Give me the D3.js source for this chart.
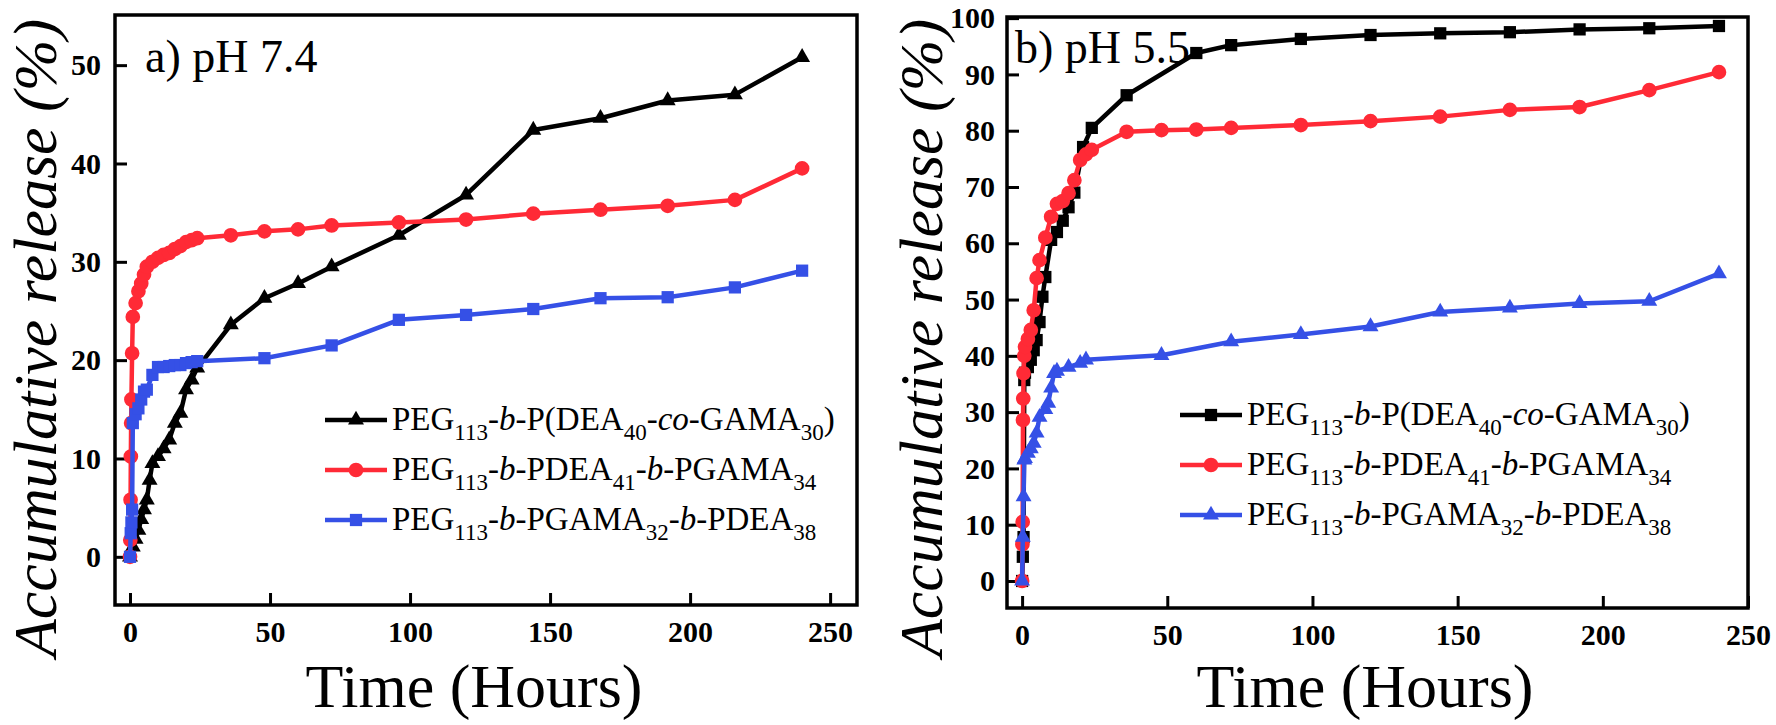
<!DOCTYPE html>
<html>
<head>
<meta charset="utf-8">
<script src="https://cdn.jsdelivr.net/npm/d3@7"></script>
<style>
  body { margin: 0; background: #fff; }
  svg { display: block; }
  text { font-family: "Liberation Serif", "Times New Roman", serif; fill: #000; }
  .tick text { font-weight: bold; font-size: 30px; }
</style>
</head>
<body>
<div id="chart"></div>
<script>
// === data ===
// panel a) pH 7.4
const aBlackT = [0, 1, 2, 3, 4, 5, 6, 7, 8, 10, 12, 14, 16, 18, 20, 22, 24, 36, 48, 60, 72, 96, 120, 144, 168, 192, 216, 240];
const aBlackV = [0, 1, 1.8, 2.7, 3.8, 4.8, 5.8, 7.8, 9.5, 10.2, 11, 11.9, 13.6, 14.6, 17, 18, 19.2, 23.6, 26.3, 27.8, 29.5, 32.7, 36.8, 43.4, 44.6, 46.4, 47, 50.8];
const aRedT = [0, 0.1, 0.2, 0.3, 0.4, 0.5, 0.75, 1, 2, 3, 4, 5, 6, 8, 10, 12, 14, 16, 18, 20, 22, 24, 36, 48, 60, 72, 96, 120, 144, 168, 192, 216, 240];
const aRedV = [0, 1.7, 5.8, 10.2, 13.6, 16, 20.7, 24.4, 25.8, 27, 27.8, 28.7, 29.5, 30, 30.4, 30.7, 30.9, 31.3, 31.6, 32, 32.2, 32.4, 32.7, 33.1, 33.3, 33.7, 34.0, 34.3, 34.9, 35.3, 35.7, 36.3, 39.5];
const aBlueT = [0, 0.25, 0.5, 0.75, 1, 2, 3, 4, 5, 6, 8, 10, 12, 14, 16, 18, 20, 22, 24, 48, 72, 96, 120, 144, 168, 192, 216, 240];
const aBlueV = [0, 2.4, 3.5, 4.8, 13.6, 14.5, 15.1, 16, 16.8, 17, 18.5, 19.3, 19.3, 19.4, 19.5, 19.5, 19.7, 19.8, 19.9, 20.2, 21.5, 24.1, 24.6, 25.2, 26.3, 26.4, 27.4, 29.1];

// panel b) pH 5.5
const bBlackT = [0, 0.25, 0.5, 0.75, 1, 2, 3, 4, 5, 6, 7, 8, 10, 12, 14, 16, 18, 21, 24, 36, 60, 72, 96, 120, 144, 168, 192, 216, 240];
const bBlackV = [0, 4.3, 7.8, 35.7, 37, 38, 39.3, 41, 42.8, 46, 50.5, 54, 60.6, 62, 64, 66.4, 69, 77.1, 80.5, 86.3, 93.8, 95.2, 96.3, 97, 97.3, 97.5, 98, 98.2, 98.6];
const bRedT = [0, 0.1, 0.2, 0.3, 0.4, 0.5, 0.75, 1, 2, 3, 4, 5, 6, 8, 10, 12, 14, 16, 18, 20, 22, 24, 36, 48, 60, 72, 96, 120, 144, 168, 192, 216, 240];
const bRedV = [0, 6.5, 10.5, 28.6, 32.4, 36.9, 40, 41.6, 43, 44.6, 48.1, 53.8, 57, 61, 64.7, 67, 67.5, 68.9, 71.2, 74.8, 75.8, 76.6, 79.8, 80.1, 80.2, 80.5, 81, 81.7, 82.5, 83.7, 84.2, 87.2, 90.4];
const bBlueT = [0, 0.25, 0.5, 0.75, 1, 2, 3, 4, 5, 6, 8, 9, 10, 11, 12, 16, 20, 22, 48, 72, 96, 120, 144, 168, 192, 216, 240];
const bBlueV = [0, 7.8, 15, 21.5, 21.8, 22.7, 23.5, 24.5, 26.3, 29.1, 30.5, 31.6, 34.3, 36.9, 37.3, 38, 38.7, 39.3, 40.1, 42.5, 43.8, 45.2, 47.8, 48.5, 49.3, 49.7, 54.6];

const xTicks = [0, 50, 100, 150, 200, 250];
const aYTicks = [0, 10, 20, 30, 40, 50];
const bYTicks = [0, 10, 20, 30, 40, 50, 60, 70, 80, 90, 100];

// legend labels: [text, isSub, isItalic]
const legendBlack = [["PEG", 0, 0], ["113", 1, 0], ["-", 0, 0], ["b", 0, 1], ["-P(DEA", 0, 0], ["40", 1, 0], ["-", 0, 0], ["co", 0, 1], ["-GAMA", 0, 0], ["30", 1, 0], [")", 0, 0]];
const legendRed = [["PEG", 0, 0], ["113", 1, 0], ["-", 0, 0], ["b", 0, 1], ["-PDEA", 0, 0], ["41", 1, 0], ["-", 0, 0], ["b", 0, 1], ["-PGAMA", 0, 0], ["34", 1, 0]];
const legendBlue = [["PEG", 0, 0], ["113", 1, 0], ["-", 0, 0], ["b", 0, 1], ["-PGAMA", 0, 0], ["32", 1, 0], ["-", 0, 0], ["b", 0, 1], ["-PDEA", 0, 0], ["38", 1, 0]];

const BLACK = "#000000", RED = "#ff2a36", BLUE = "#3550e6";

const W = 1776, H = 725;
const svg = d3.select("#chart").append("svg").attr("width", W).attr("height", H);

function zip(t, v) { return t.map((d, i) => ({t: d, v: v[i]})); }

function drawPanel(cfg) {
    const x = d3.scaleLinear().domain(cfg.xDom).range(cfg.xRange);
    const y = d3.scaleLinear().domain(cfg.yDom).range(cfg.yRange);
    const g = svg.append("g");

    // axes, ticks pointing inward
    g.append("g").attr("transform", `translate(0,${cfg.yRange[0]})`)
        .call(d3.axisBottom(x).tickValues(xTicks).tickSizeInner(-12).tickSizeOuter(0).tickPadding(16))
        .call(a => a.select(".domain").remove())
        .call(a => a.selectAll("line").attr("stroke", "#000").attr("stroke-width", 3));

    g.append("g").attr("transform", `translate(${cfg.xRange[0]},0)`)
        .call(d3.axisLeft(y).tickValues(cfg.yTicks).tickSizeInner(-12).tickSizeOuter(0).tickPadding(cfg.yPad))
        .call(a => a.select(".domain").remove())
        .call(a => a.selectAll("line").attr("stroke", "#000").attr("stroke-width", 3));

    g.append("rect")
        .attr("x", cfg.xRange[0]).attr("y", cfg.yRange[1])
        .attr("width", cfg.xRange[1] - cfg.xRange[0]).attr("height", cfg.yRange[0] - cfg.yRange[1])
        .attr("fill", "none").attr("stroke", "#000").attr("stroke-width", 3.5);

    const line = d3.line().x(d => x(d.t)).y(d => y(d.v));

    cfg.series.forEach(s => {
        const data = zip(s.t, s.v);
        g.append("path").datum(data)
            .attr("d", line).attr("fill", "none")
            .attr("stroke", s.color).attr("stroke-width", 4.5).attr("stroke-linejoin", "round");
        g.selectAll(null).data(data).join("path")
            .attr("transform", d => `translate(${x(d.t)},${y(d.v)})`)
            .attr("d", d3.symbol().type(s.symbol).size(s.size))
            .attr("fill", s.color);
    });

    // panel tag
    g.append("text").attr("x", cfg.tag[1]).attr("y", cfg.tag[2])
        .style("font-size", "46px").text(cfg.tag[0]);

    // legend
    cfg.series.forEach((s, i) => {
        const ly = cfg.legY + i * 50;
        g.append("line")
            .attr("x1", cfg.legX).attr("x2", cfg.legX + 62)
            .attr("y1", ly).attr("y2", ly)
            .attr("stroke", s.color).attr("stroke-width", 4.5);
        g.append("path")
            .attr("transform", `translate(${cfg.legX + 31},${ly})`)
            .attr("d", d3.symbol().type(s.symbol).size(s.size))
            .attr("fill", s.color);
        const t = g.append("text").attr("x", cfg.legX + 67).attr("y", ly + 10)
            .style("font-size", "33px");
        let sub = false;
        s.label.forEach(([txt, isSub, isIt]) => {
            const span = t.append("tspan").text(txt);
            if (isSub && !sub) { span.attr("dy", 10); sub = true; }
            else if (!isSub && sub) { span.attr("dy", -10); sub = false; }
            if (isSub) span.style("font-size", "23px");
            if (isIt) span.style("font-style", "italic");
        });
    });

    // axis titles
    g.append("text")
        .attr("transform", `translate(${cfg.yTitleX},338) rotate(-90)`)
        .attr("text-anchor", "middle")
        .style("font-size", "62px").style("font-style", "italic")
        .text("Accumulative release (%)");

    g.append("text")
        .attr("x", cfg.xTitleX).attr("y", 707)
        .attr("text-anchor", "middle")
        .style("font-size", "62px")
        .text("Time (Hours)");
}

drawPanel({
    xDom: [-5.36, 259.6], xRange: [115, 857],
    yDom: [-4.9, 55.1], yRange: [605, 15],
    yTicks: aYTicks, yPad: 14,
    tag: ["a) pH 7.4", 145, 72],
    legX: 325, legY: 420,
    yTitleX: 56, xTitleX: 474,
    series: [
        {t: aBlackT, v: aBlackV, color: BLACK, symbol: d3.symbolTriangle, size: 110, label: legendBlack},
        {t: aRedT, v: aRedV, color: RED, symbol: d3.symbolCircle, size: 170, label: legendRed},
        {t: aBlueT, v: aBlueV, color: BLUE, symbol: d3.symbolSquare, size: 150, label: legendBlue}
    ]
});

drawPanel({
    xDom: [-5.2, 250], xRange: [1007, 1748],
    yDom: [-4.8, 100.2], yRange: [608, 17],
    yTicks: bYTicks, yPad: 12,
    tag: ["b) pH 5.5", 1015, 63],
    legX: 1180, legY: 415,
    yTitleX: 942, xTitleX: 1365,
    series: [
        {t: bBlackT, v: bBlackV, color: BLACK, symbol: d3.symbolSquare, size: 150, label: legendBlack},
        {t: bRedT, v: bRedV, color: RED, symbol: d3.symbolCircle, size: 170, label: legendRed},
        {t: bBlueT, v: bBlueV, color: BLUE, symbol: d3.symbolTriangle, size: 110, label: legendBlue}
    ]
});
</script>
</body>
</html>
